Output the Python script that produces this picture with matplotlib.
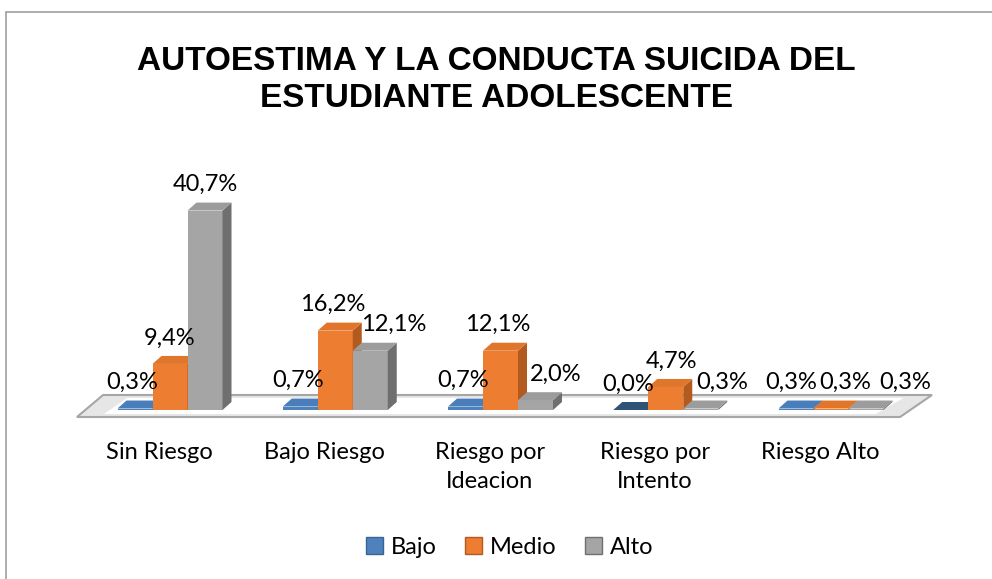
import numpy as np
import matplotlib
matplotlib.use("Agg")
import matplotlib.pyplot as plt
from matplotlib.patches import Polygon, Rectangle, Patch

# data
categorias = ["Sin Riesgo", "Bajo Riesgo", "Riesgo por\nIdeacion", "Riesgo por\nIntento", "Riesgo Alto"]
series = ["Bajo", "Medio", "Alto"]
bajo = [0.3, 0.7, 0.7, 0.0, 0.3]
medio = [9.4, 16.2, 12.1, 4.7, 0.3]
alto = [40.7, 12.1, 2.0, 0.3, 0.3]
titulo = "AUTOESTIMA Y LA CONDUCTA SUICIDA DEL\nESTUDIANTE ADOLESCENTE"

# styles: front, side, top
colores = {
    "Bajo": ("#4f81bd", "#3a6494", "#4a7ebb"),
    "Medio": ("#ed7d31", "#b35a1f", "#e0762c"),
    "Alto": ("#a5a5a5", "#6f6f6f", "#9c9c9c"),
}
# label shifts in pixels (Excel moves some labels to avoid overlap)
shift_px = {
    "Bajo": [-3, -2, -2, -3, -5],
    "Medio": [0, -3, -3, 6, 14],
    "Alto": [0, 23, 20, 21, 39],
}

W, H = 992, 579
fig = plt.figure(figsize=(W / 100, H / 100), dpi=100)
ax = fig.add_axes([0, 0, 1, 1])

# pixel -> data mapping: category step 165.25 px, 4.9 px per percent, base at y=410
sx, sy = 165.25, 4.9
ax.set_xlim((0 - 170) / sx, (W - 170) / sx)
ax.set_ylim((410 - H) / sy, 410 / sy)
ax.axis("off")

fnt = "Lato"
fs = 17
bw = 35 / sx
dx, dy = 9 / sx, 8 / sy

# floor
yb, yf = (410 - 395) / sy, (410 - 417) / sy
floor = [(-0.563, yf), (4.418, yf), (4.611, yb), (-0.405, yb)]
ax.add_patch(Polygon(floor, closed=True, facecolor="#e6e6e6", edgecolor="#a6a6a6", lw=1.5, zorder=1))
inner = [(-0.40, yf + 0.6), (4.27, yf + 0.6), (4.44, yb - 0.6), (-0.26, yb - 0.6)]
ax.add_patch(Polygon(inner, closed=True, facecolor="white", edgecolor="none", zorder=1.5))

x = np.arange(len(categorias))
valores = {"Bajo": bajo, "Medio": medio, "Alto": alto}
offsets = {"Bajo": -bw, "Medio": 0.0, "Alto": bw}

z = 2
for i in x:
    for s in series:
        v = valores[s][i]
        front, side, top = colores[s]
        if v == 0:
            top = "#2f5377"
        c = i + offsets[s]
        x0, x1 = c - bw / 2, c + bw / 2
        ax.add_patch(Rectangle((x0, 0), bw, v, facecolor=front, edgecolor="none", zorder=z))
        ax.add_patch(Polygon([(x1, 0), (x1, v), (x1 + dx, v + dy), (x1 + dx, dy)],
                             closed=True, facecolor=side, edgecolor="none", zorder=z))
        ax.add_patch(Polygon([(x0, v), (x1, v), (x1 + dx, v + dy), (x0 + dx, v + dy)],
                             closed=True, facecolor=top, edgecolor="none", zorder=z))
        z += 0.1
        lbl = ("%.1f%%" % v).replace(".", ",")
        ax.text(c + shift_px[s][i] / sx, v + 26 / sy, lbl, ha="center", va="center",
                fontsize=fs, family=fnt, color="black", zorder=10)

# category labels
for i, cat in enumerate(categorias):
    ax.text(i - 0.065, (410 - 442) / sy, cat, ha="center", va="top", fontsize=fs,
            family=fnt, color="black", linespacing=1.5)

fig.text(0.5, 1 - 80 / H, titulo, ha="center", va="center", fontsize=24,
         fontweight="bold", family="Liberation Sans", linespacing=1.28)

handles = [Patch(facecolor=colores[s][0], edgecolor=colores[s][1]) for s in series]
fig.legend(handles, series, loc="center", bbox_to_anchor=(0.514, 1 - 547 / H), ncol=3,
           frameon=False, prop={"family": fnt, "size": fs}, handlelength=0.7,
           handleheight=0.7, handletextpad=0.35, columnspacing=1.2)

# chart area border (only left/top visible in the crop)
fig.patches.append(Rectangle((6 / W, -0.1), 1.2, 1 - 12 / H + 0.1, transform=fig.transFigure,
                             fill=False, edgecolor="#a0a0a0", lw=1.2))

fig.savefig("out.png", dpi=100, facecolor="white")
